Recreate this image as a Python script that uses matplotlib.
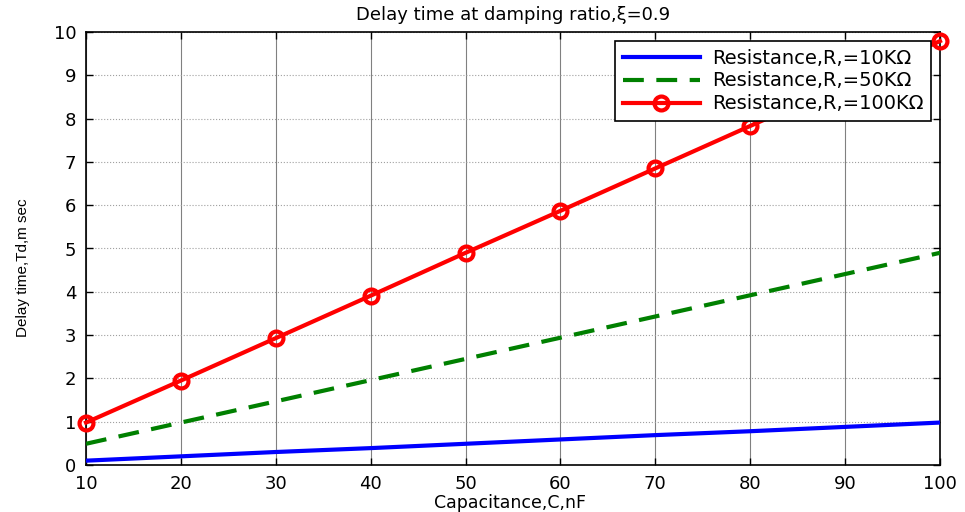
#!/usr/bin/env python3

import matplotlib
matplotlib.use("Agg")
import matplotlib.pyplot as plt

# capacitance in nF
cap = [10, 20, 30, 40, 50, 60, 70, 80, 90, 100]

# delay time in m sec for each resistance
td_10k = [0.10, 0.20, 0.30, 0.39, 0.49, 0.59, 0.69, 0.78, 0.88, 0.98]
td_50k = [0.49, 0.98, 1.47, 1.96, 2.45, 2.94, 3.43, 3.92, 4.41, 4.90]
td_100k = [0.98, 1.95, 2.93, 3.91, 4.90, 5.87, 6.85, 7.83, 8.81, 9.79]

labels = [
    "Resistance,R,=10K\u03a9",
    "Resistance,R,=50K\u03a9",
    "Resistance,R,=100K\u03a9",
]

plt.rcParams["font.family"] = ["DejaVu Sans"]

fig = plt.figure(figsize=(9.65, 5.12), dpi=100)
ax = fig.add_axes([86 / 965, 1 - 465 / 512, (940 - 86) / 965, (465 - 32) / 512])

ax.plot(cap, td_10k, color="#0000ff", lw=3, label=labels[0], zorder=3)
ax.plot(cap, td_50k, color="#008000", lw=3, ls=(0, (5, 3)), label=labels[1], zorder=3)
ax.plot(cap, td_100k, color="#ff0000", lw=3, marker="o", ms=10, mfc="none",
        mec="#ff0000", mew=3, label=labels[2], zorder=3, clip_on=False)

ax.set_xlim(10, 100)
ax.set_ylim(0, 10)
ax.set_xticks(range(10, 101, 10))
ax.set_yticks(range(0, 11))

ax.grid(axis="x", color="#808080", lw=0.8, ls="-")
ax.grid(axis="y", color="#a0a0a0", lw=0.8, ls=":")

ax.tick_params(direction="in", top=True, right=True, length=5, width=1,
               labelsize=13, pad=7)
for s in ax.spines.values():
    s.set_linewidth(1.2)

ax.set_title("Delay time at damping ratio,\u03be=0.9", fontsize=13, pad=9)
ax.set_xlabel("Capacitance,C,nF", fontsize=12.5)
ax.xaxis.set_label_coords(0.497, -0.066)
ax.set_ylabel("Delay time,Td,m sec", fontsize=11, family="Liberation Sans")
ax.yaxis.set_label_coords(-0.066, 0.455)

leg = ax.legend(loc="upper right", fontsize=14, fancybox=False, framealpha=1,
                edgecolor="black", handlelength=4.0, borderaxespad=0.45,
                labelspacing=0.2, borderpad=0.4, handletextpad=0.6)
leg.get_frame().set_linewidth(1.2)

fig.savefig("out.png", dpi=100)
plt.close(fig)
